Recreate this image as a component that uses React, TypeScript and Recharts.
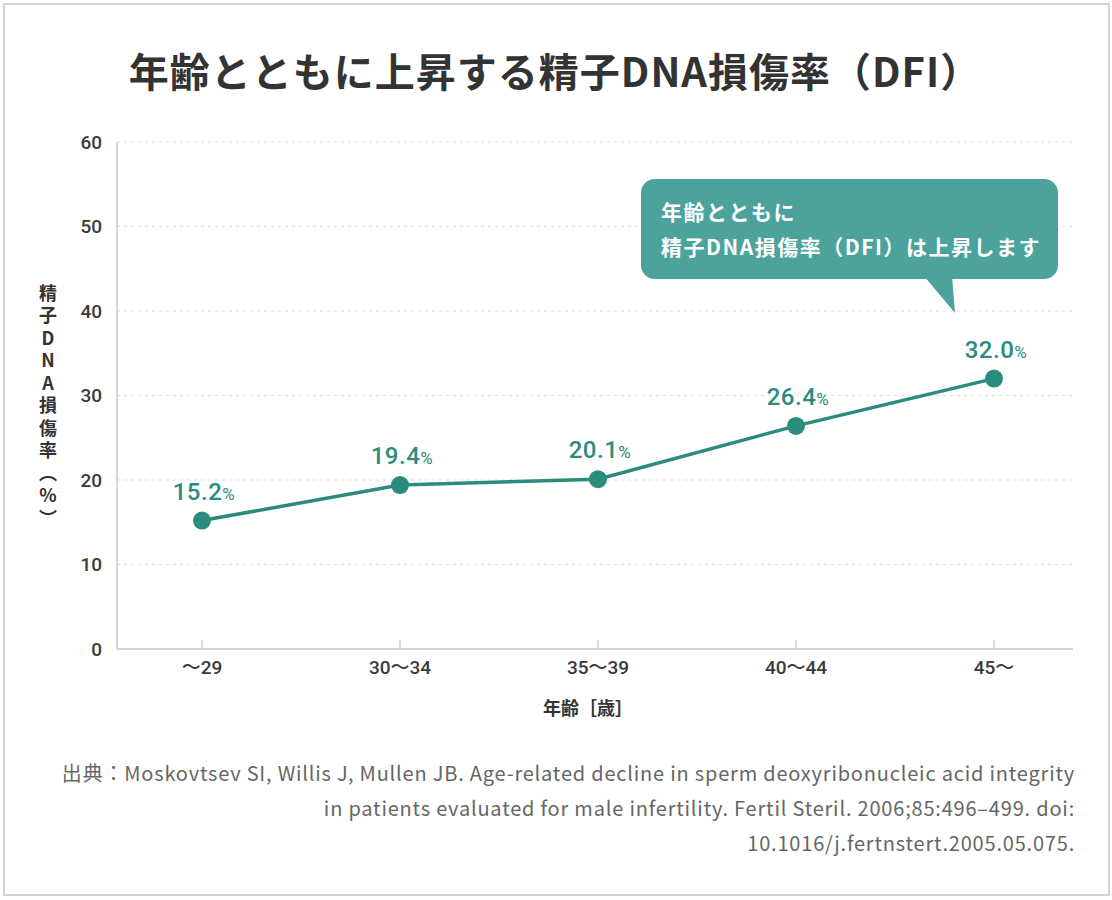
import { CartesianGrid, LabelList, Line, LineChart, XAxis, YAxis } from "recharts";

const ageGroups = ["～29", "30～34", "35～39", "40～44", "45～"];
const dfiValues = [15.2, 19.4, 20.1, 26.4, 32.0];
const yTicks = [0, 10, 20, 30, 40, 50, 60];

const title = "年齢とともに上昇する精子DNA損傷率（DFI）";
const yLabel = "精子DNA損傷率（%）";
const xLabel = "年齢［歳］";
const calloutLines = ["年齢とともに", "精子DNA損傷率（DFI）は上昇します"];
const sourceLines = [
  "出典：Moskovtsev SI, Willis J, Mullen JB. Age-related decline in sperm deoxyribonucleic acid integrity",
  "in patients evaluated for male infertility. Fertil Steril. 2006;85:496–499. doi:",
  "10.1016/j.fertnstert.2005.05.075.",
];

const data = ageGroups.map((age, i) => ({ age, dfi: dfiValues[i] }));

const TEAL = "#2b8c7e";
const CALLOUT = "#4ba39c";
const TEXT = "#333";
const JP = "'Noto Sans CJK JP', 'Noto Sans', sans-serif";
const NUM = "Roboto, 'Noto Sans CJK JP', sans-serif";

const TICK_MARGIN = 12;

function XTick(props: any) {
  const { x, y, payload } = props;
  const axisY = y - TICK_MARGIN;
  return (
    <g>
      <line x1={x} x2={x} y1={axisY - 9} y2={axisY} stroke="#cfcfcf" strokeWidth={1.5} />
      <text x={x} y={y} dy="0.71em" textAnchor="middle" fill="#3a3a3a" fontSize={19} fontWeight={500} fontFamily={NUM}>
        {payload.value}
      </text>
    </g>
  );
}

function DataLabel(props: any) {
  const { x, y, value } = props;
  return (
    <text x={x + 2} y={y - 21} textAnchor="middle" fill={TEAL} fontFamily={NUM} letterSpacing={0.5}>
      <tspan fontSize={24} fontWeight={500}>{Number(value).toFixed(1)}</tspan>
      <tspan fontSize={17} fontWeight={400}>%</tspan>
    </text>
  );
}

function YLabel(props: any) {
  const { viewBox } = props;
  const cy = viewBox.y + viewBox.height / 2 + 12;
  return (
    <text
      x={viewBox.x + 48}
      y={cy}
      textAnchor="middle"
      fill={TEXT}
      fontSize={18}
      fontWeight={700}
      fontFamily={JP}
      letterSpacing={4.5}
      style={{ writingMode: "vertical-rl", textOrientation: "upright" } as any}
    >
      {yLabel}
    </text>
  );
}

export default function App() {
  return (
    <div style={{ position: "absolute", left: 0, top: 0, width: 1112, height: 900, background: "#fff" }}>
      <div
        style={{
          position: "absolute",
          left: 3,
          top: 3,
          width: 1103,
          height: 889,
          border: "2px solid #d2d2d2",
        }}
      />
      <div
        style={{
          position: "absolute",
          left: 0,
          top: 43,
          width: 1110,
          textAlign: "center",
          fontFamily: JP,
          fontWeight: 700,
          fontSize: 40,
          lineHeight: "54px",
          color: TEXT,
          letterSpacing: 1,
        }}
      >
        {title}
      </div>

      <div style={{ position: "absolute", left: 0, top: 0 }}>
        <LineChart
          width={1112}
          height={900}
          data={data}
          margin={{ top: 142, right: 39, bottom: 191, left: 0 }}
        >
          <CartesianGrid vertical={false} stroke="#dedede" strokeDasharray="3 4" />
          <XAxis
            dataKey="age"
            height={60}
            padding={{ left: 85, right: 79 }}
            axisLine={{ stroke: "#c8c8c8", strokeWidth: 1.5 }}
            tickLine={false}
            tickSize={0}
            tickMargin={TICK_MARGIN}
            tick={<XTick />}
            interval={0}
          />
          <YAxis
            width={117}
            domain={[0, 60]}
            ticks={yTicks}
            axisLine={{ stroke: "#c8c8c8", strokeWidth: 1.5 }}
            tickLine={false}
            tickSize={0}
            tickMargin={15}
            tick={{ fill: "#3a3a3a", fontSize: 19, fontWeight: 500, fontFamily: NUM }}
            label={<YLabel />}
          />
          <Line
            type="linear"
            dataKey="dfi"
            stroke={TEAL}
            strokeWidth={3.5}
            dot={{ r: 9, fill: TEAL, stroke: "none" }}
            activeDot={false}
            isAnimationActive={false}
          >
            <LabelList dataKey="dfi" content={<DataLabel />} />
          </Line>
        </LineChart>
      </div>

      <div
        style={{
          position: "absolute",
          left: 0,
          top: 694,
          width: 1176,
          textAlign: "center",
          fontFamily: JP,
          fontWeight: 700,
          fontSize: 18,
          lineHeight: "26px",
          color: TEXT,
        }}
      >
        {xLabel}
      </div>

      <div
        style={{
          position: "absolute",
          left: 641,
          top: 179,
          width: 417,
          height: 100,
          borderRadius: 14,
          background: CALLOUT,
          boxSizing: "border-box",
          padding: "15px 0 0 20px",
          fontFamily: JP,
          fontWeight: 700,
          fontSize: 21,
          lineHeight: "35px",
          letterSpacing: 1.5,
          color: "#fff",
        }}
      >
        {calloutLines.map((l) => (
          <div key={l}>{l}</div>
        ))}
      </div>
      <svg style={{ position: "absolute", left: 920, top: 276 }} width={40} height={40}>
        <polygon points="4,0 32,0 35,37" fill={CALLOUT} />
      </svg>

      <div
        style={{
          position: "absolute",
          right: 37,
          top: 755,
          width: 1060,
          textAlign: "right",
          fontFamily: JP,
          fontSize: 20,
          lineHeight: "35px",
          letterSpacing: 0.8,
          color: "#666",
        }}
      >
        {sourceLines.map((l) => (
          <div key={l}>{l}</div>
        ))}
      </div>
    </div>
  );
}
